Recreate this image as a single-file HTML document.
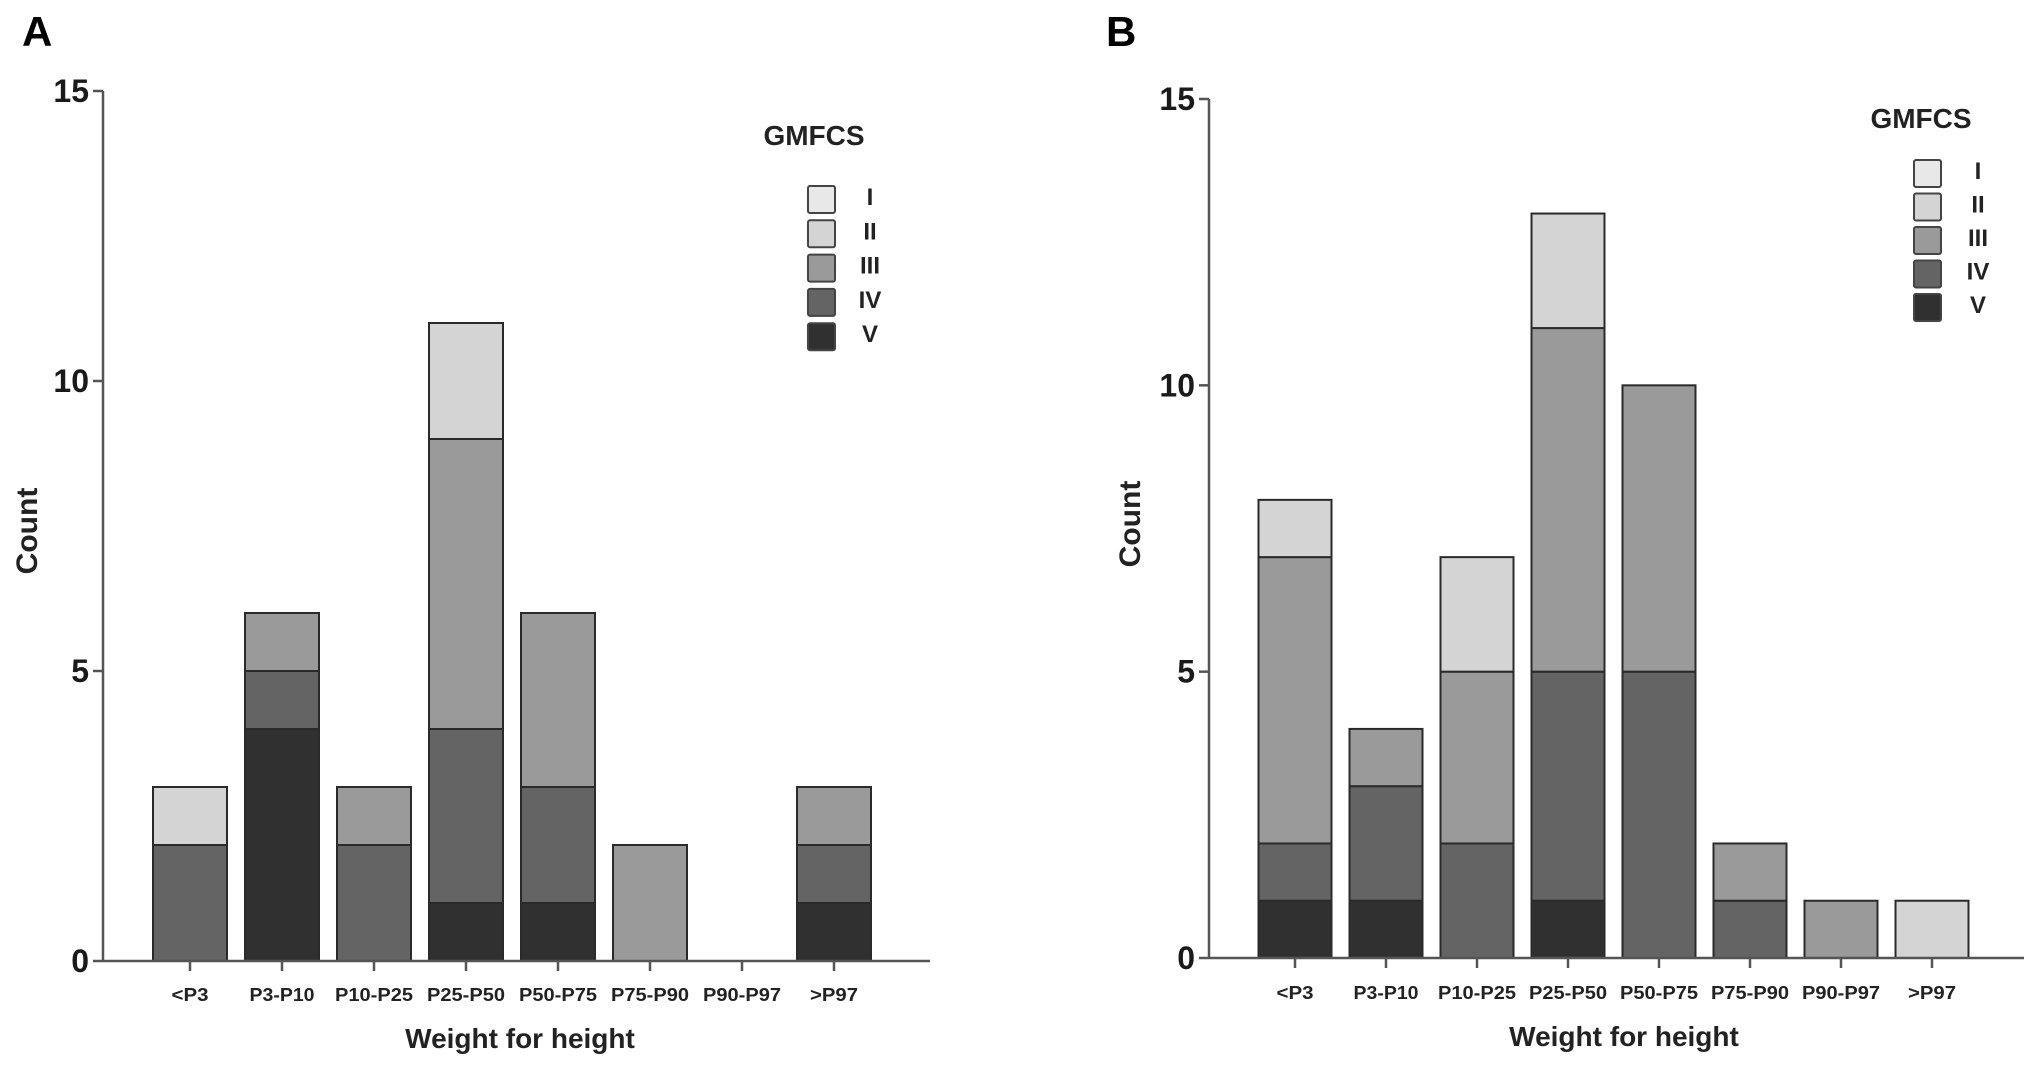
<!DOCTYPE html>
<html><head><meta charset="utf-8"><style>
html,body{margin:0;padding:0;background:#fff;}
svg{display:block;font-family:"Liberation Sans",sans-serif;font-weight:bold;}
</style></head><body>
<svg id="fig" width="2031" height="1075" viewBox="0 0 2031 1075"></svg>
<script>
const categories = ["<P3","P3-P10","P10-P25","P25-P50","P50-P75","P75-P90","P90-P97",">P97"];
const levels = ["I","II","III","IV","V"];
const yTicks = [0,5,10,15];
// stacked bottom-to-top order: V, IV, III, II, I
const aV   = [0,4,0,1,1,0,0,1];
const aIV  = [2,1,2,3,2,0,0,1];
const aIII = [0,1,1,5,3,2,0,1];
const aII  = [1,0,0,2,0,0,0,0];
const aI   = [0,0,0,0,0,0,0,0];
const bV   = [1,1,0,1,0,0,0,0];
const bIV  = [1,2,2,4,5,1,0,0];
const bIII = [5,1,3,6,5,1,1,0];
const bII  = [1,0,2,2,0,0,0,1];
const bI   = [0,0,0,0,0,0,0,0];
const colors = {I:"#e8e8e8",II:"#d4d4d4",III:"#9a9a9a",IV:"#646464",V:"#303030"};
const NS="http://www.w3.org/2000/svg";
const svg=document.getElementById("fig");
function mk(tag,attrs,parent,text){const e=document.createElementNS(NS,tag);for(const k in attrs)e.setAttribute(k,attrs[k]);if(text!==undefined)e.textContent=text;(parent||svg).appendChild(e);return e;}

function panel(p){
  const g=mk("g",{});
  
  
  const y=v=>p.y0-(p.y0-p.y15)*v/15;
  const x=i=>p.c0+i*p.pitch;
  const lbl=mk("text",{x:p.lx,y:p.ly,"font-size":42},g,p.id);
  
  
  const series=[["V",p.d.V],["IV",p.d.IV],["III",p.d.III],["II",p.d.II],["I",p.d.I]];
  categories.forEach((c,i)=>{
    let base=0;
    series.forEach(([lev,arr])=>{
      const v=arr[i]; if(!v) return;
      const r=mk("rect",{x:x(i)-p.bw/2,y:y(base+v),width:p.bw,height:y(base)-y(base+v),fill:colors[lev],stroke:"#2a2a2a","stroke-width":2},g);
      
      
      base+=v;
    });
  });
  const ya=mk("line",{x1:p.ax,y1:p.y15,x2:p.ax,y2:p.y0,stroke:"#555","stroke-width":2.5},g);
  
  
  const xa=mk("line",{x1:p.ax,y1:p.y0,x2:p.xend,y2:p.y0,stroke:"#555","stroke-width":2.5},g);
  
  
  yTicks.forEach(t=>{
    mk("line",{x1:p.ax-10,y1:y(t),x2:p.ax,y2:y(t),stroke:"#555","stroke-width":2.5},g);
    const tl=mk("text",{x:p.ax-14,y:y(t)+11,"font-size":32,"text-anchor":"end",fill:"#1a1a1a"},g,String(t));
    
    
  });
  categories.forEach((c,i)=>{
    mk("line",{x1:x(i),y1:p.y0,x2:x(i),y2:p.y0+10,stroke:"#555","stroke-width":2.5},g);
    const tl=mk("text",{x:x(i),y:p.tly,"font-size":18,"text-anchor":"middle",fill:"#222",textLength:c.length>6?78:(c.length>4?65:(c.length>3?48:37)),lengthAdjust:"spacingAndGlyphs"},g,c);
    
    
  });
  const xt=mk("text",{x:p.xtx,y:p.xty,"font-size":28,"text-anchor":"middle",fill:"#222"},g,"Weight for height");
  
  
  const yt=mk("text",{x:0,y:0,"font-size":30,"text-anchor":"middle",fill:"#222",transform:`translate(${p.ytx},${p.yty}) rotate(-90)`},g,"Count");
  
  
  const lg=mk("g",{},g);
  
  
  mk("text",{x:p.legX,y:p.legTY,"font-size":28,"text-anchor":"middle",fill:"#222"},lg,"GMFCS");
  levels.forEach((l,k)=>{
    const ty=p.legY0+k*p.legP;
    const r=mk("rect",{x:p.boxX,y:ty,width:27,height:27,rx:2,fill:colors[l],stroke:"#444","stroke-width":2},lg);
    
    
    const t=mk("text",{x:p.labX,y:ty+19,"font-size":24,"text-anchor":"middle",fill:"#222"},lg,l);
    
    
  });
}
panel({id:"A",lx:22,ly:46,ax:103,y0:961,y15:91,xend:930,c0:190,pitch:92,bw:74,tly:1001,xtx:520,xty:1048,ytx:37,yty:531,
  legX:814,legTY:145,boxX:808,legY0:186,legP:34.3,labX:870,
  d:{V:aV,IV:aIV,III:aIII,II:aII,I:aI}});
panel({id:"B",lx:1106,ly:46,ax:1209,y0:958,y15:99,xend:2024,c0:1295,pitch:91,bw:73,tly:999,xtx:1624,xty:1046,ytx:1140,yty:524,
  legX:1921,legTY:128,boxX:1914,legY0:160,legP:33.5,labX:1978,
  d:{V:bV,IV:bIV,III:bIII,II:bII,I:bI}});
</script>
</body></html>
